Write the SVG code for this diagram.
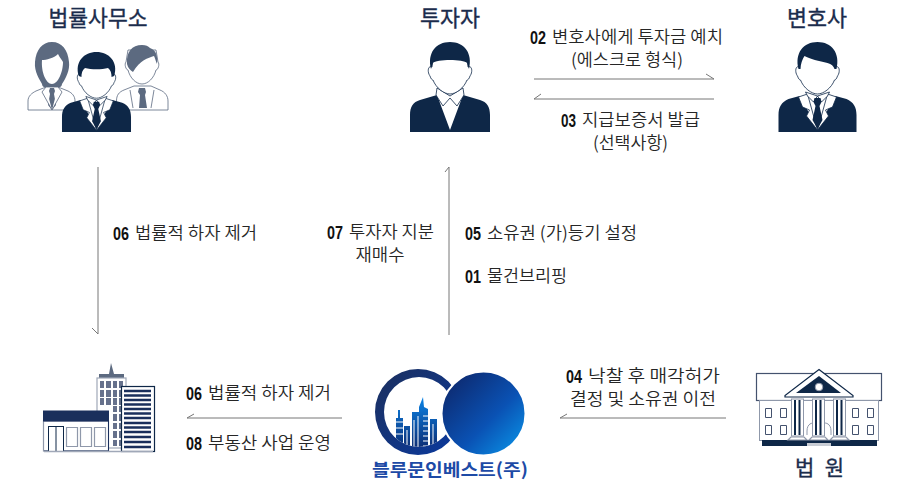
<svg xmlns="http://www.w3.org/2000/svg" width="900" height="480" viewBox="0 0 900 480">
<style>
text{font-family:"Noto Sans CJK KR","Noto Sans",sans-serif;fill:#262626;font-size:17.500px;font-weight:350}
.n{font-family:"Liberation Sans",sans-serif;font-weight:700;fill:#111;font-size:19px}
.t{font-size:22px;fill:#1b2c4c;text-anchor:middle;font-weight:400;stroke:#1b2c4c;stroke-width:.35}
.c{text-anchor:middle}
.ln{fill:none;stroke:#777;stroke-width:1}
.d{fill:#0e2747}.g{fill:#5c6a80}
.f{fill:#fff;stroke:#0e2747;stroke-width:.8}
.fg{fill:#fff;stroke:#5c6a80;stroke-width:.8}
.w{fill:#fff}
</style>
<defs>
<linearGradient id="lg" x1="0.1" y1="0.1" x2="0.9" y2="0.9"><stop offset="0" stop-color="#0d2a70"/><stop offset=".6" stop-color="#0a52b4"/><stop offset="1" stop-color="#0a8ae0"/></linearGradient>
<linearGradient id="rg" x1="0" y1="0" x2="1" y2="1"><stop offset="0" stop-color="#1c2f5c"/><stop offset="1" stop-color="#0a3aa0"/></linearGradient>
<linearGradient id="cg" gradientUnits="userSpaceOnUse" x1="0" y1="397" x2="0" y2="450"><stop offset="0" stop-color="#0b84e6"/><stop offset="1" stop-color="#0d2a70"/></linearGradient>
<g id="head">
<path class="f" d="M-17,10L-18,25C-22,23-23,30-20,34C-19,37-18,38-17,38C-14,46-6,52 0,52C6,52 14,46 17,38C18,38 19,37 20,34C23,30 22,23 18,25L17,10Z"/>
</g>
<g id="inv">
<path class="d" d="M-40,90V73C-40,65-37,60-30,58L-13,53L0,88L13,53L30,58C37,60 40,65 40,73V90Z"/>
<path class="f" d="M-13,46L-14,53L-7,64L0,56L7,64L14,53L13,46L0,54Z"/>
<use href="#head"/>
<path class="d" d="M-19,27C-23,11-14,0 0,0C14,0 23,11 19,27L17,21C14,17-14,17-17,21Z"/>
</g>
<g id="law">
<path class="d" d="M-39,90V73C-39,65-36,60-29,57L-18,54L-10,68L0,88L10,68L18,54L29,57C36,60 39,65 39,73V90Z"/>
<path class="f" d="M-19,55L-10,52L0,88L-11,74L-8,68L-15,65Z"/>
<path class="f" d="M19,55L10,52L0,88L11,74L8,68L15,65Z"/>
<path class="f" d="M-12,50L-10,54L-4,60L0,54L4,60L10,54L12,50L0,54Z"/>
<path class="d" d="M-3,56H3L4,60L2,64L5,78L0,87L-5,78L-2,64L-4,60Z"/>
<use href="#head"/>
<path class="d" d="M-19,27C-23,11-14,0 0,0C14,0 23,11 19,27L17,27C16,24 14,22 10,21C2,19-8,17-13,14C-15,17-17,22-17,27Z"/>
</g>
<g id="law2">
<path class="d" d="M-39,90V73C-39,65-36,60-29,57L-18,54L-10,68L0,88L10,68L18,54L29,57C36,60 39,65 39,73V90Z"/>
<path class="f" d="M-19,55L-10,52L0,88L-11,74L-8,68L-15,65Z"/>
<path class="f" d="M19,55L10,52L0,88L11,74L8,68L15,65Z"/>
<path class="f" d="M-12,50L-10,54L-4,60L0,54L4,60L10,54L12,50L0,54Z"/>
<path class="d" d="M-3,56H3L4,60L2,64L5,78L0,87L-5,78L-2,64L-4,60Z"/>
<use href="#head"/>
<path class="d" d="M-20,27C-25,11-14,0 0,0C14,0 25,11 20,27L17,28C17,24 16,20 13,18C6,20-6,20-13,18C-16,20-17,24-17,28Z"/>
</g>
<clipPath id="ci"><circle cx="419" cy="412" r="35"/></clipPath>
</defs>

<g id="connectors">
<path class="ln" d="M98,167V334L92,328"/>
<path class="ln" d="M449,335V167L445,172"/>
<path class="ln" d="M534,79H714L706,74"/>
<path class="ln" d="M714,99H534L541,94"/>
<path class="ln" d="M342,418H187L194,414"/>
<path class="ln" d="M726,418H560L567,414"/>
</g>

<g id="lawfirm">
<text class="t" x="98" y="25.500" textLength="99" lengthAdjust="spacingAndGlyphs">법률사무소</text>
<g id="woman">
<path class="fg" d="M28,110V101C28,96 32,93 36,91L46,87H58L68,91C72,93 75,96 75,101V110Z"/>
<path class="g" d="M50,88H54L55,91L54,94L56,105L52,110L48,105L50,94L49,91Z"/>
<path class="fg" d="M52,110L42,92L46,87M52,110L62,92L58,87" fill="none"/>
<path class="g" d="M52,42C62,42 68,50 69,62C70,70 66,78 62,84C62,86 60,88 58,87L46,87C44,88 42,86 42,84C40,80 34,72 35,62C36,50 42,42 52,42Z"/>
<path class="w" d="M42,60C46,60 54,58 58,54C60,58 62,60 63,62C63,72 58,84 52,84C46,84 41,72 42,60Z"/>
</g>
<g id="man2">
<path class="fg" d="M116.500,110V101C116.500,95 119,92 124,90L134,86H151L160,90C165,92 168,96 168,101V110Z"/>
<path class="g" d="M139,88H145L146,92L145,95L147,108L139,108L140,95L138,92Z"/>
<path class="fg" d="M133,108L130,90M151,108L154,90" fill="none"/>
<path class="fg" d="M126,62C124,64 126,70 128,70C130,78 136,84 142,84C148,84 154,78 156,70C158,70 160,64 158,62L156,50H128Z"/>
<path class="g" d="M127,64C126,52 132,45 142,45C146,45 148,46 150,48C156,50 158,56 157,64C156,62 155,58 154,56C148,58 140,60 133,72C130,70 128,68 127,64Z"/>
</g>
<use href="#law2" transform="translate(96.500,52) scale(.885,.889)"/>
</g>

<g id="investor">
<text class="t" x="450" y="25.500" textLength="60" lengthAdjust="spacingAndGlyphs">투자자</text>
<use href="#inv" transform="translate(450,42)"/>
</g>

<g id="lawyer">
<text class="t" x="817" y="25.500" textLength="60" lengthAdjust="spacingAndGlyphs">변호사</text>
<use href="#law" transform="translate(817.500,42)"/>
</g>

<g id="labels">
<text class="n" x="530" y="44" textLength="16" lengthAdjust="spacingAndGlyphs">02</text>
<text x="552" y="43" textLength="171" lengthAdjust="spacingAndGlyphs">변호사에게 투자금 예치</text>
<text class="c" x="627" y="66" textLength="112" lengthAdjust="spacingAndGlyphs">(에스크로 형식)</text>
<text class="n" x="561" y="127" textLength="15" lengthAdjust="spacingAndGlyphs">03</text>
<text x="582" y="126" textLength="118" lengthAdjust="spacingAndGlyphs">지급보증서 발급</text>
<text class="c" x="630.500" y="149" textLength="75" lengthAdjust="spacingAndGlyphs">(선택사항)</text>
<text class="n" x="113" y="240" textLength="16" lengthAdjust="spacingAndGlyphs">06</text>
<text x="135" y="239" textLength="122" lengthAdjust="spacingAndGlyphs">법률적 하자 제거</text>
<text class="n" x="327" y="239" textLength="16" lengthAdjust="spacingAndGlyphs">07</text>
<text x="349" y="238" textLength="85" lengthAdjust="spacingAndGlyphs">투자자 지분</text>
<text class="c" x="380" y="261" textLength="49" lengthAdjust="spacingAndGlyphs">재매수</text>
<text class="n" x="465" y="240" textLength="16" lengthAdjust="spacingAndGlyphs">05</text>
<text x="487" y="239" textLength="150" lengthAdjust="spacingAndGlyphs">소유권 (가)등기 설정</text>
<text class="n" x="465" y="283" textLength="16" lengthAdjust="spacingAndGlyphs">01</text>
<text x="487" y="282" textLength="80" lengthAdjust="spacingAndGlyphs">물건브리핑</text>
<text class="n" x="566" y="383" textLength="16" lengthAdjust="spacingAndGlyphs">04</text>
<text x="588" y="382" textLength="132" lengthAdjust="spacingAndGlyphs">낙찰 후 매각허가</text>
<text class="c" x="643" y="405" textLength="146" lengthAdjust="spacingAndGlyphs">결정 및 소유권 이전</text>
<text class="n" x="186" y="400" textLength="16" lengthAdjust="spacingAndGlyphs">06</text>
<text x="208" y="399" textLength="123" lengthAdjust="spacingAndGlyphs">법률적 하자 제거</text>
<text class="n" x="186" y="450" textLength="16" lengthAdjust="spacingAndGlyphs">08</text>
<text x="208" y="449" textLength="123" lengthAdjust="spacingAndGlyphs">부동산 사업 운영</text>
</g>

<g id="buildings">
<path class="g" d="M111,363L109,374H99L99,378H124V374H114Z"/>
<rect x="97" y="378" width="29" height="70" fill="#fff" stroke="#a0a8b8" stroke-width="1.200"/>
<path fill="#66718c" d="M100,381h4v7h-4zM106,381h5v7h-5zM113,381h4v7h-4zM119,381h4v7h-4zM100,390h4v7h-4zM106,390h5v7h-5zM113,390h4v7h-4zM119,390h4v7h-4zM100,398h4v7h-4zM106,398h5v7h-5zM113,398h4v7h-4zM119,398h4v7h-4zM113,406h4v6h-4zM119,406h4v6h-4zM113,414h4v7h-4zM119,414h4v7h-4zM113,423h4v6h-4zM119,423h4v6h-4zM113,431h4v7h-4zM119,431h4v7h-4zM113,440h4v6h-4zM119,440h4v6h-4z"/>
<rect x="121.500" y="386.500" width="33" height="65" fill="#fff" stroke="#0e2747" stroke-width="1.200"/>
<path stroke="#1a2f5c" stroke-width="2.600" d="M124,391H151M124,395.500H151M124,400H151M124,404.500H151M124,409H151M124,413.500H151M124,418H151M124,423H151M124,427.500H151M124,432H151M124,437H151M124,442H151M124,447H151"/>
<rect x="43.500" y="421" width="65" height="30" fill="#fff" stroke="#8f98aa" stroke-width="1.200"/>
<rect x="43" y="410.500" width="66" height="11" fill="#1a2f5c"/>
<path fill="none" stroke="#1a2f5c" stroke-width="1" d="M108.500,421V451H44"/>
<rect x="48.500" y="426.500" width="15" height="25" fill="#fff" stroke="#0e2747" stroke-width="1"/>
<path stroke="#0e2747" d="M56,426.500V451.500"/>
<path fill="#fff" stroke="#8f98aa" stroke-width="1.200" d="M66.500,427.500h11v19h-11zM80.500,427.500h11v19h-11zM94.500,427.500h11v19h-11z"/>
<path stroke="#a0a8b8" stroke-width="1.500" d="M44,451.500H153"/>
</g>

<g id="logo">
<path fill="url(#rg)" fill-rule="evenodd" d="M375,412a43,43 0 1,0 86,0a43,43 0 1,0 -86,0ZM384,412a35,35 0 1,1 70,0a35,35 0 1,1 -70,0Z"/>
<g clip-path="url(#ci)">
<g fill="url(#cg)">
<path d="M398,410h2v8h3v32h-7V418h2Z"/>
<rect x="404" y="426" width="6" height="24"/>
<path d="M412,412h7v-5L423,397L424,407L428,409V450H412Z"/>
<rect x="430" y="419" width="7" height="31"/>
</g>
<path stroke="#fff" stroke-width="1" d="M396,422h7M396,428h7M396,434h7M407,430v20M414,420v30M418,416v34M423,416h5M423,421h5M423,426h5M423,431h5M423,436h5M423,441h5M423,446h5M433,424v26"/>
</g>
<circle cx="483.500" cy="413.500" r="42" fill="url(#lg)" stroke="#fff" stroke-width="2"/>
<text class="c" x="450" y="476" textLength="156" lengthAdjust="spacingAndGlyphs" style="font-weight:700;fill:#1d4aa6;font-size:17.500px">블루문인베스트(주)</text>
</g>

<g id="court">
<rect x="756.500" y="373.500" width="125" height="27" fill="#fff" stroke="#44526e" stroke-width="1.200"/>
<rect x="759.500" y="400.500" width="119" height="40" fill="#fff" stroke="#8f98aa" stroke-width="1"/>
<rect x="762" y="440" width="115" height="6" fill="#0e2747"/>
<path fill="#fff" stroke="#0e2747" stroke-width="1.200" d="M819,369.500L853,395.500V397H785V395.500Z"/>
<path fill="#0e2747" d="M819,376L841,393H796Z"/>
<circle cx="819" cy="387" r="3.800" fill="#fff" stroke="#8f98aa" stroke-width="1"/>
<g id="cols">
<rect x="791.500" y="399" width="12" height="37" fill="#fff" stroke="#8f98aa"/>
<rect x="812.500" y="399" width="12" height="37" fill="#fff" stroke="#8f98aa"/>
<rect x="833.500" y="399" width="12" height="37" fill="#fff" stroke="#8f98aa"/>
<path stroke="#0e2747" stroke-width="2" d="M795,400V435M799.500,400V435M816,400V435M820.500,400V435M837,400V435M841.500,400V435"/>
<path stroke="#8f98aa" stroke-width="1.200" fill="#fff" d="M788,440L791,437H804L807,440ZM809,440L812,437H825L828,440ZM830,440L833,437H846L849,440Z"/>
</g>
<path fill="none" stroke="#8f98aa" d="M807,435V431C807,423 813,423 813,423M831,435V431C831,423 825,423 825,423"/>
<rect x="807" y="443" width="24" height="3" fill="#c8ccd4"/>
<path fill="#fff" stroke="#44526e" d="M765.500,408.500h6v9h-6zM780.500,408.500h6v9h-6zM852.500,408.500h6v9h-6zM867.500,408.500h6v9h-6zM765.500,425.500h6v9h-6zM780.500,425.500h6v9h-6zM852.500,425.500h6v9h-6zM867.500,425.500h6v9h-6z"/>
<text class="t" x="819.500" y="475" style="font-size:21px" textLength="49" lengthAdjust="spacing">법 원</text>
</g>
</svg>
